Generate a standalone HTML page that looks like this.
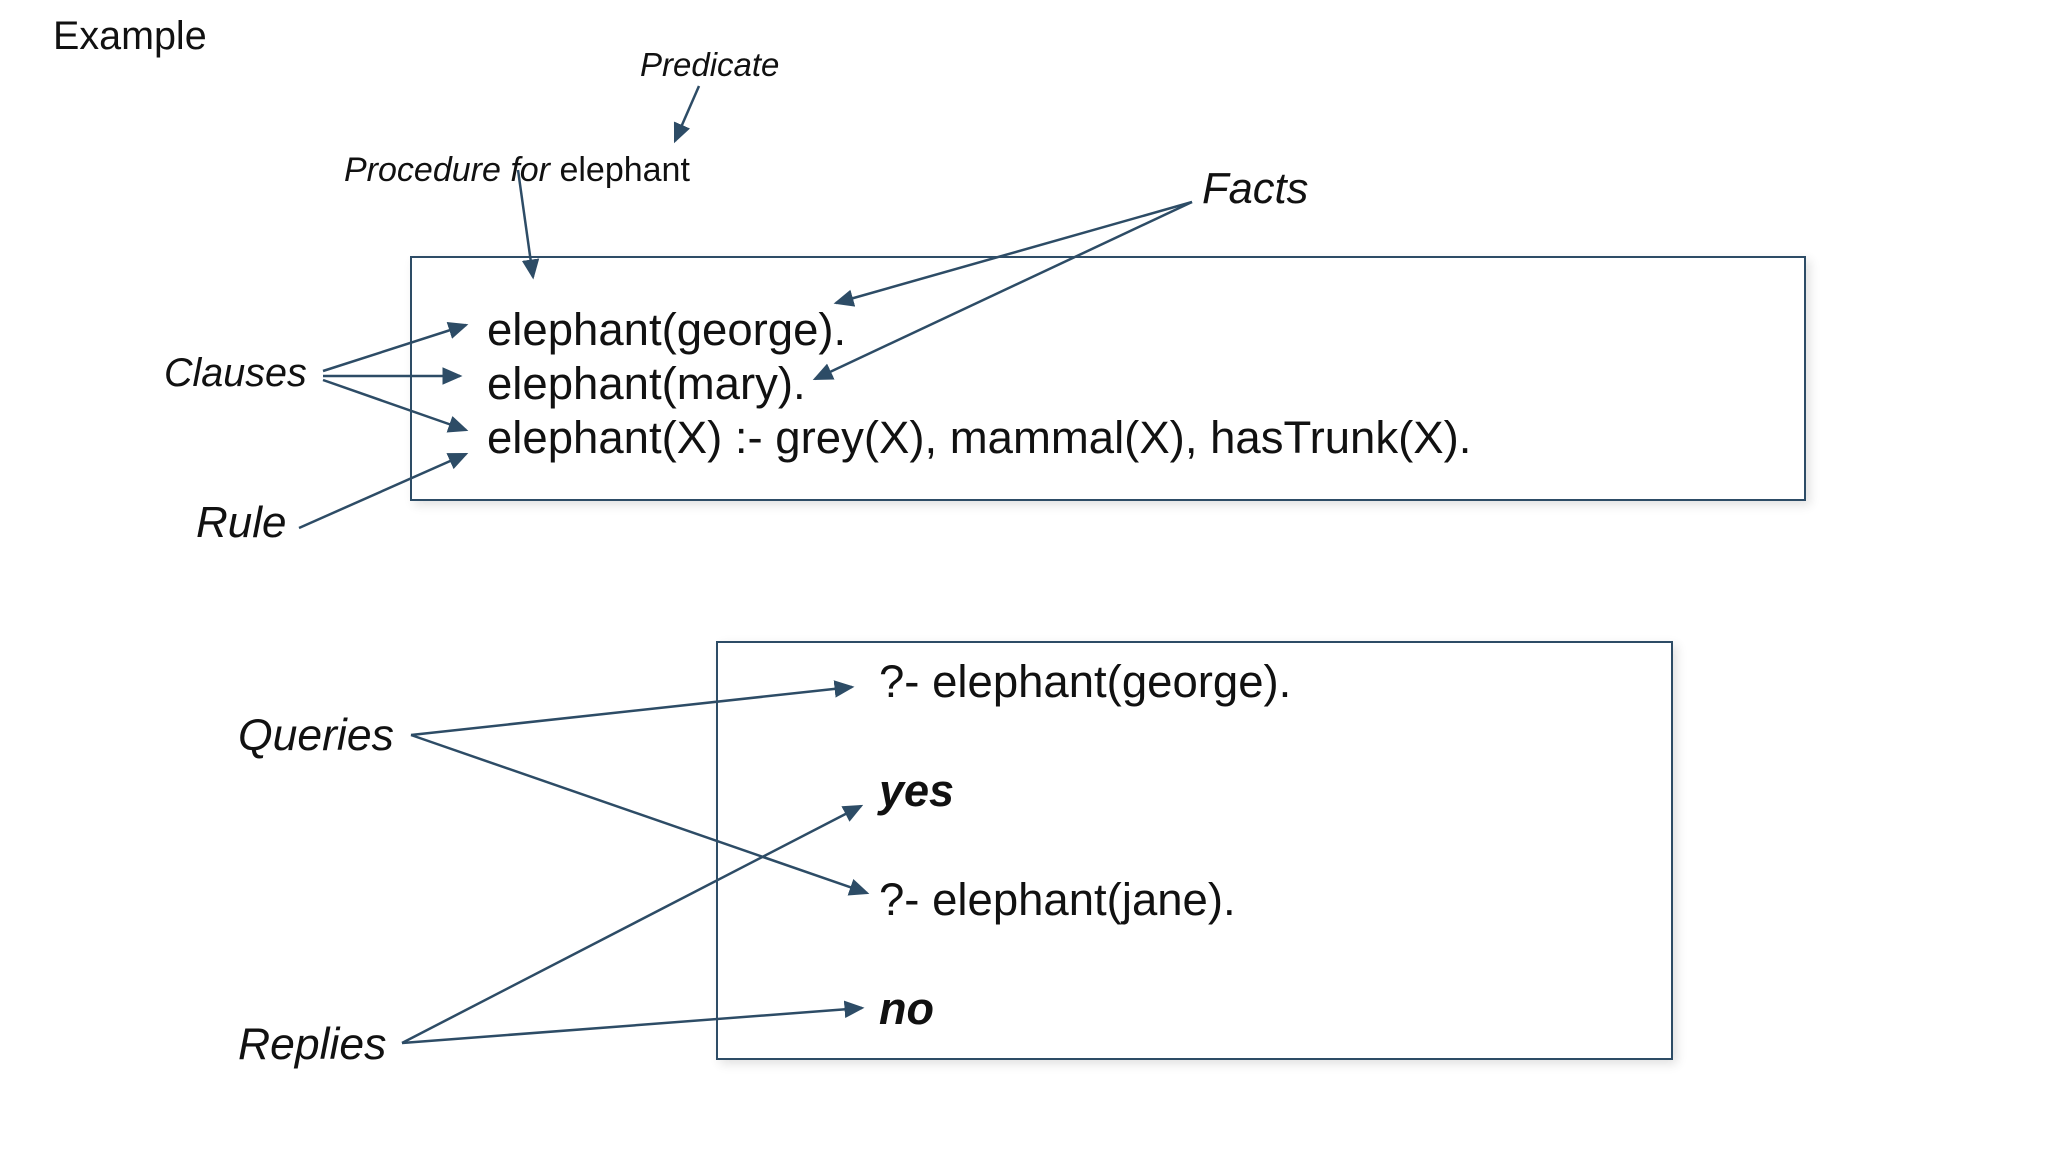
<!DOCTYPE html>
<html><head><meta charset="utf-8"><style>
html,body{margin:0;padding:0;background:#fff;}
body{width:2048px;height:1152px;position:relative;overflow:hidden;font-family:"Liberation Sans",Arial,sans-serif;color:#111;}
.box{position:absolute;border:2px solid #2d4c66;box-shadow:4px 4px 10px rgba(0,0,0,0.12);background:#fff;}
.t{position:absolute;white-space:nowrap;line-height:1;}
</style></head><body>
<div class="box" style="left:410px;top:256px;width:1392px;height:241px;"></div>
<div class="box" style="left:716px;top:641px;width:953px;height:415px;"></div>
<div class="t" style="left:53px;top:17px;font-size:39.5px;">Example</div>
<div class="t" style="left:640px;top:48px;font-size:33px;font-style:italic;">Predicate</div>
<div class="t" style="left:344px;top:153px;font-size:34px;"><i>Procedure for</i> elephant</div>
<div class="t" style="left:1202px;top:168px;font-size:43.5px;font-style:italic;">Facts</div>
<div class="t" style="left:164px;top:354px;font-size:39.5px;font-style:italic;">Clauses</div>
<div class="t" style="left:196px;top:501px;font-size:44px;font-style:italic;">Rule</div>
<div class="t" style="left:487px;top:307px;font-size:45.5px;">elephant(george).</div>
<div class="t" style="left:487px;top:361px;font-size:45.5px;">elephant(mary).</div>
<div class="t" style="left:487px;top:415px;font-size:45.5px;">elephant(X) :- grey(X), mammal(X), hasTrunk(X).</div>
<div class="t" style="left:238px;top:714px;font-size:44.5px;font-style:italic;">Queries</div>
<div class="t" style="left:238px;top:1023px;font-size:44.5px;font-style:italic;">Replies</div>
<div class="t" style="left:879px;top:659px;font-size:45.5px;">?- elephant(george).</div>
<div class="t" style="left:879px;top:768px;font-size:45px;font-weight:bold;font-style:italic;">yes</div>
<div class="t" style="left:879px;top:877px;font-size:45.5px;">?- elephant(jane).</div>
<div class="t" style="left:879px;top:986px;font-size:45px;font-weight:bold;font-style:italic;">no</div>
<svg width="2048" height="1152" style="position:absolute;left:0;top:0;">
<defs><marker id="a" markerWidth="8" markerHeight="8" refX="7" refY="4" orient="auto" markerUnits="strokeWidth"><path d="M0,0.5 L8,4 L0,7.5 z" fill="#2d4c66"/></marker></defs>
<g stroke="#2d4c66" stroke-width="2.5" fill="none" marker-end="url(#a)">
<line x1="699" y1="86" x2="675" y2="141"/>
<line x1="518" y1="170" x2="533" y2="277"/>
<line x1="1192" y1="202" x2="836" y2="303"/>
<line x1="1192" y1="202" x2="815" y2="379"/>
<line x1="323" y1="371" x2="466" y2="325"/>
<line x1="323" y1="376" x2="460" y2="376"/>
<line x1="323" y1="380" x2="466" y2="430"/>
<line x1="299" y1="528" x2="466" y2="454"/>
<line x1="411" y1="735" x2="852" y2="687"/>
<line x1="411" y1="735" x2="867" y2="893"/>
<line x1="402" y1="1043" x2="861" y2="806"/>
<line x1="402" y1="1043" x2="862" y2="1008"/>
</g></svg>
</body></html>
